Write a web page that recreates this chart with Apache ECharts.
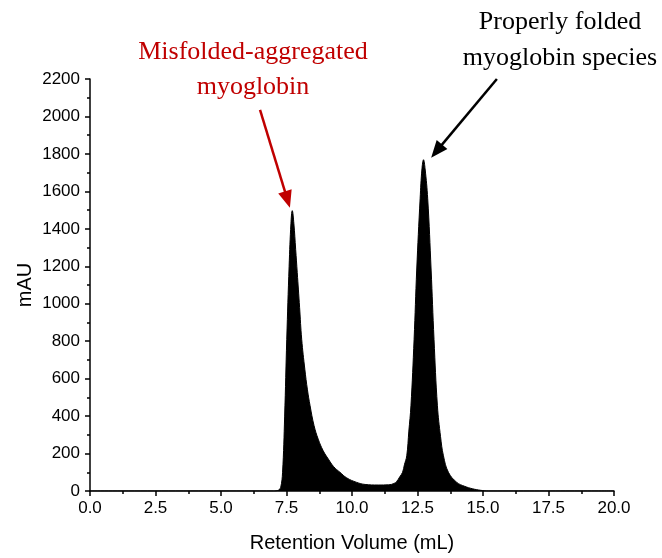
<!DOCTYPE html>
<html>
<head>
<meta charset="utf-8">
<script src="https://cdn.jsdelivr.net/npm/echarts@6/dist/echarts.min.js"></script>
<style>
  html, body { margin: 0; padding: 0; background: #fff; }
  #main { width: 662px; height: 558px; }
</style>
</head>
<body>
<div id="main"></div>
<script>
// retention volume (mL) and absorbance (mAU)
const volume = [0, 7.0, 7.2, 7.28, 7.35, 7.43, 7.51, 7.6, 7.67, 7.72, 7.78, 7.85, 7.91, 8.0, 8.08, 8.2, 8.3, 8.4, 8.55, 8.71, 8.9, 9.1, 9.3, 9.54, 9.8, 10.18, 10.5, 11.0, 11.4, 11.6, 11.7, 11.82, 11.93, 12.0, 12.09, 12.17, 12.25, 12.37, 12.47, 12.6, 12.67, 12.73, 12.79, 12.89, 13.02, 13.13, 13.26, 13.38, 13.49, 13.68, 14.0, 14.3, 14.6, 14.9, 15.2, 20];
const mAU = [0, 0, 5, 20, 100, 400, 810, 1200, 1430, 1497, 1430, 1290, 1167, 980, 810, 650, 540, 455, 350, 277, 215, 170, 130, 100, 70, 46, 35, 32, 33, 40, 50, 75, 100, 140, 188, 320, 455, 810, 1180, 1560, 1720, 1769, 1720, 1560, 1180, 810, 455, 290, 188, 100, 46, 25, 12, 4, 0, 0];

const xTicks = { min: 0, max: 20, interval: 2.5 };
const yTicks = { min: 0, max: 2200, interval: 200 };

// annotation arrows: [from, to] in data coordinates
const redArrow = [[6.49, 2035], [7.63, 1513]];
const blackArrow = [[15.53, 2200], [13.02, 1780]];

const chart = echarts.init(document.getElementById('main'));
const axisFont = 'Liberation Sans, Arial, sans-serif';
const serif = 'Liberation Serif, Times New Roman, serif';

const option = {
    animation: false,
    grid: { left: 90, right: 48, top: 79, bottom: 66 },
    xAxis: {
        type: 'value',
        min: xTicks.min,
        max: xTicks.max,
        interval: xTicks.interval,
        name: 'Retention Volume (mL)',
        nameLocation: 'middle',
        nameGap: 42,
        nameTextStyle: { fontFamily: axisFont, fontSize: 20, color: '#000' },
        axisLine: { lineStyle: { color: '#000', width: 1.5 } },
        axisTick: { length: 5, lineStyle: { color: '#000', width: 1.5 } },
        minorTick: { show: true, splitNumber: 2, length: 3, lineStyle: { color: '#000', width: 1.5 } },
        splitLine: { show: false },
        axisLabel: {
            margin: 9,
            fontFamily: axisFont, fontSize: 17, color: '#000',
            formatter: v => v.toFixed(1)
        }
    },
    yAxis: {
        type: 'value',
        min: yTicks.min,
        max: yTicks.max,
        interval: yTicks.interval,
        name: 'mAU',
        nameLocation: 'middle',
        nameGap: 55,
        nameMoveOverlap: false,
        nameRotate: 90,
        nameTextStyle: { fontFamily: axisFont, fontSize: 20, color: '#000' },
        axisLine: { show: true, lineStyle: { color: '#000', width: 1.5 } },
        axisTick: { show: true, length: 5, lineStyle: { color: '#000', width: 1.5 } },
        minorTick: { show: true, splitNumber: 2, length: 3, lineStyle: { color: '#000', width: 1.5 } },
        splitLine: { show: false },
        axisLabel: {
            margin: 10, fontFamily: axisFont, fontSize: 17, color: '#000',
            formatter: v => String(v)
        }
    },
    series: [{
        type: 'line',
        data: volume.map((v, i) => [v, mAU[i]]),
        symbol: 'none',
        smooth: 0.4,
        lineStyle: { color: '#000', width: 1 },
        areaStyle: { color: '#000', opacity: 1 },
        z: 1
    }]
};
chart.setOption(option);

function arrow(pair, color) {
    const p0 = chart.convertToPixel({ gridIndex: 0 }, pair[0]);
    const p1 = chart.convertToPixel({ gridIndex: 0 }, pair[1]);
    const dx = p1[0] - p0[0], dy = p1[1] - p0[1];
    const len = Math.sqrt(dx * dx + dy * dy);
    const ux = dx / len, uy = dy / len;
    const headLen = 17, headW = 7;
    const bx = p1[0] - ux * headLen, by = p1[1] - uy * headLen;
    return [
        {
            type: 'line',
            shape: { x1: p0[0], y1: p0[1], x2: bx + ux * 2, y2: by + uy * 2 },
            style: { stroke: color, lineWidth: 2.5 },
            z: 10
        },
        {
            type: 'polygon',
            shape: { points: [[p1[0], p1[1]], [bx - uy * headW, by + ux * headW], [bx + uy * headW, by - ux * headW]] },
            style: { fill: color },
            z: 10
        }
    ];
}

chart.setOption({
    graphic: [
        ...arrow(redArrow, '#c00000'),
        ...arrow(blackArrow, '#000'),
        {
            type: 'text',
            x: 253, y: 35,
            style: {
                text: 'Misfolded-aggregated\nmyoglobin',
                fill: '#c00000', font: '26px ' + serif,
                align: 'center', verticalAlign: 'top', lineHeight: 35
            },
            z: 10
        },
        {
            type: 'text',
            x: 560, y: 4,
            style: {
                text: 'Properly folded\nmyoglobin species',
                fill: '#000', font: '26px ' + serif,
                align: 'center', verticalAlign: 'top', lineHeight: 36
            },
            z: 10
        }
    ]
});
</script>
</body>
</html>
